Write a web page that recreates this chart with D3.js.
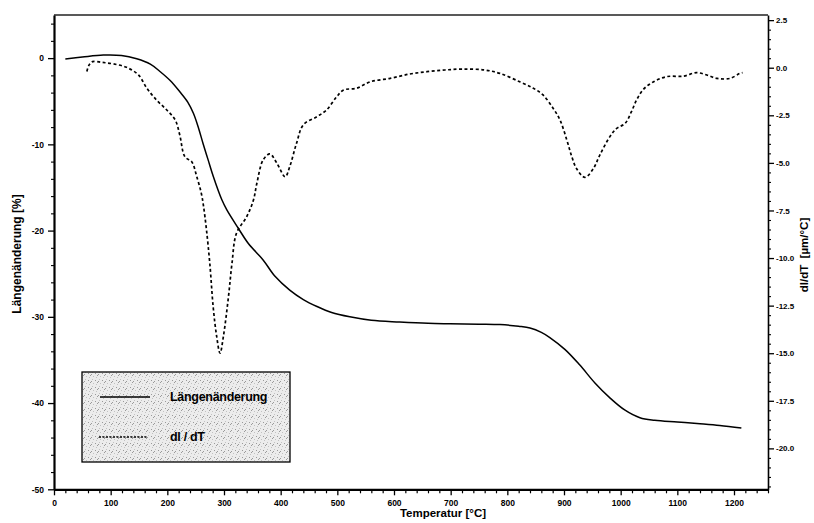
<!DOCTYPE html>
<html>
<head>
<meta charset="utf-8">
<script src="https://cdn.jsdelivr.net/npm/d3@7"></script>
<style>
  html, body { margin: 0; padding: 0; background: #fff; }
  svg { display: block; font-family: "Liberation Sans", Arial, sans-serif; }
  .tick text { font-weight: bold; }
</style>
</head>
<body>
<svg id="chart" width="814" height="523"></svg>
<script>
// Dilatometer run: relative length change (left axis) and its derivative dl/dT (right axis)
const lengthTemp   = [20, 50, 87, 119, 146, 170, 187, 205, 222, 236, 246, 255, 263, 272, 281, 296, 305, 325, 343, 369, 390, 416, 440, 464, 490, 522, 560, 610, 660, 699, 750, 787, 820, 840, 860, 875, 902, 928, 955, 981, 1007, 1034, 1060, 1100, 1140, 1175, 1213];
const lengthChange = [-0.1, 0.12, 0.35, 0.3, -0.08, -0.7, -1.55, -2.6, -3.9, -5.1, -6.4, -8.1, -9.9, -11.8, -13.7, -16.4, -17.6, -19.7, -21.5, -23.4, -25.3, -26.9, -28.0, -28.8, -29.5, -30.0, -30.4, -30.6, -30.75, -30.8, -30.85, -30.9, -31.1, -31.3, -31.8, -32.4, -33.8, -35.6, -37.7, -39.4, -40.8, -41.7, -42.0, -42.2, -42.4, -42.6, -42.9];

const derivTemp  = [58, 62, 68, 85, 105, 128, 149, 164, 181, 199, 214, 222, 231, 243, 252, 260, 264, 269, 275, 281, 287, 293, 299, 308, 314, 322, 340, 352, 358, 369, 381, 393, 408, 416, 428, 440, 464, 481, 499, 511, 534, 558, 593, 628, 658, 690, 720, 760, 787, 822, 846, 863, 881, 893, 905, 913, 922, 937, 952, 963, 981, 993, 1008, 1019, 1028, 1040, 1058, 1081, 1111, 1134, 1152, 1170, 1193, 1210, 1215];
const derivValue = [-0.2, 0.15, 0.32, 0.28, 0.2, 0.02, -0.38, -1.08, -1.7, -2.22, -2.75, -3.54, -4.68, -4.94, -5.73, -6.6, -7.3, -8.5, -10.3, -12.6, -14.1, -15.0, -14.1, -12.0, -10.3, -8.7, -7.83, -6.95, -6.07, -4.85, -4.53, -5.0, -5.73, -5.2, -3.97, -3.0, -2.57, -2.22, -1.52, -1.17, -1.08, -0.74, -0.56, -0.33, -0.21, -0.12, -0.07, -0.12, -0.3, -0.74, -1.08, -1.43, -2.14, -2.75, -3.8, -4.6, -5.29, -5.76, -5.29, -4.6, -3.62, -3.19, -2.92, -2.31, -1.7, -1.14, -0.74, -0.47, -0.44, -0.26, -0.38, -0.56, -0.56, -0.3, -0.26];

const tempTicks   = [0, 100, 200, 300, 400, 500, 600, 700, 800, 900, 1000, 1100, 1200];
const lengthTicks = [0, -10, -20, -30, -40, -50];
const derivTicks  = [2.5, 0, -2.5, -5, -7.5, -10, -12.5, -15, -17.5, -20];

const legendLabels = ["Längenänderung", "dl / dT"];

const svg = d3.select("#chart");
const plotL = 54, plotR = 768, plotT = 15, plotB = 489.3;

const x  = d3.scaleLinear().domain([0, 1260]).range([plotL, plotR]);
const yL = d3.scaleLinear().domain([-50, 5]).range([plotB, plotT]);
const yR = d3.scaleLinear().domain([-22.15, 2.77]).range([plotB, plotT]);

// plain hyphen for negative numbers
const fmtInt = d => String(d);
const fmtOne = d => d.toFixed(1);

// Legend fill: light stipple
const defs = svg.append("defs");
const pat = defs.append("pattern").attr("id", "stipple")
  .attr("patternUnits", "userSpaceOnUse").attr("width", 7).attr("height", 7);
pat.append("rect").attr("width", 7).attr("height", 7).attr("fill", "#ececec");
[[1,1],[4,2],[2,5],[6,4],[5,6],[0,3]].forEach(([a,b], i) =>
  pat.append("rect").attr("x", a).attr("y", b).attr("width", 1).attr("height", 1)
    .attr("fill", i % 2 ? "#9a9a9a" : "#c2c2c2"));

// Frame: top edge
svg.append("line").attr("x1", plotL).attr("x2", plotR).attr("y1", plotT).attr("y2", plotT)
  .attr("stroke", "#222").attr("stroke-width", 1.4);

function styleAxis(g, w) {
  g.select(".domain").attr("stroke", "#000").attr("stroke-width", w);
  g.selectAll(".tick line").attr("stroke", "#000").attr("stroke-width", 1.3);
  g.selectAll(".tick text").attr("fill", "#000");
}

// minor ticks
const minorX = d3.range(0, 1261, 20).filter(v => v % 100 !== 0);
svg.append("g").attr("transform", `translate(0,${plotB})`)
  .call(d3.axisBottom(x).tickValues(minorX).tickSize(4).tickFormat("").tickSizeOuter(0))
  .call(g => { g.select(".domain").remove(); g.selectAll("line").attr("stroke", "#000").attr("stroke-width", 1.2); });
const minorL = d3.range(-50, 5.01, 2).filter(v => v % 10 !== 0);
svg.append("g").attr("transform", `translate(${plotL},0)`)
  .call(d3.axisLeft(yL).tickValues(minorL).tickSize(3).tickFormat(""))
  .call(g => { g.select(".domain").remove(); g.selectAll("line").attr("stroke", "#000").attr("stroke-width", 1.1); });
const minorR = d3.range(-22, 2.77, 0.5).filter(v => Math.abs(v % 2.5) > 1e-6);
svg.append("g").attr("transform", `translate(${plotR},0)`)
  .call(d3.axisRight(yR).tickValues(minorR).tickSize(3).tickFormat(""))
  .call(g => { g.select(".domain").remove(); g.selectAll("line").attr("stroke", "#000").attr("stroke-width", 1.1); });

// major axes
svg.append("g").attr("transform", `translate(0,${plotB})`)
  .call(d3.axisBottom(x).tickValues(tempTicks).tickFormat(fmtInt).tickSize(6).tickSizeOuter(0).tickPadding(5))
  .call(g => styleAxis(g, 2.2))
  .call(g => g.selectAll("text").attr("font-size", 8.5));

svg.append("g").attr("transform", `translate(${plotL},0)`)
  .call(d3.axisLeft(yL).tickValues(lengthTicks).tickFormat(fmtInt).tickSize(6).tickSizeOuter(0).tickPadding(4))
  .call(g => styleAxis(g, 2.2))
  .call(g => g.selectAll("text").attr("font-size", 8.5));

svg.append("g").attr("transform", `translate(${plotR},0)`)
  .call(d3.axisRight(yR).tickValues(derivTicks).tickSize(6).tickSizeOuter(0).tickPadding(2)
    .tickFormat(fmtOne))
  .call(g => styleAxis(g, 1.6))
  .call(g => g.selectAll("text").attr("font-size", 8));

// Axis titles
svg.append("text").attr("x", 443).attr("y", 517).attr("text-anchor", "middle")
  .attr("font-size", 11.5).attr("font-weight", "bold").text("Temperatur [°C]");
svg.append("text").attr("transform", "translate(21,254) rotate(-90)").attr("text-anchor", "middle")
  .attr("font-size", 12).attr("font-weight", "bold").text("Längenänderung [%]");
svg.append("text").attr("transform", "translate(808,255) rotate(-90)").attr("text-anchor", "middle")
  .attr("font-size", 11.5).attr("font-weight", "bold").attr("xml:space", "preserve")
  .text("dl/dT  [µm/°C]");

// Curves
const lineL = d3.line().x((d, i) => x(lengthTemp[i])).y(d => yL(d)).curve(d3.curveCatmullRom.alpha(0.5));
const lineR = d3.line().x((d, i) => x(derivTemp[i])).y(d => yR(d)).curve(d3.curveCatmullRom.alpha(0.5));

svg.append("path").attr("d", lineL(lengthChange))
  .attr("fill", "none").attr("stroke", "#000").attr("stroke-width", 1.5);
svg.append("path").attr("d", lineR(derivValue))
  .attr("fill", "none").attr("stroke", "#000").attr("stroke-width", 1.7)
  .attr("stroke-dasharray", "3,2.5");

// Legend
const lg = svg.append("g");
lg.append("rect").attr("x", 82).attr("y", 372).attr("width", 208).attr("height", 90)
  .attr("fill", "url(#stipple)").attr("stroke", "#000").attr("stroke-width", 1.3);
lg.append("line").attr("x1", 100).attr("x2", 150).attr("y1", 397).attr("y2", 397)
  .attr("stroke", "#000").attr("stroke-width", 1.5);
lg.append("line").attr("x1", 99).attr("x2", 148).attr("y1", 437).attr("y2", 437)
  .attr("stroke", "#000").attr("stroke-width", 1.7).attr("stroke-dasharray", "2,1.5");
lg.selectAll("text.lab").data(legendLabels).join("text").attr("class", "lab")
  .attr("x", 170).attr("y", (d, i) => 401 + i * 40)
  .attr("font-size", 12.5).attr("font-weight", "bold").attr("letter-spacing", -0.3)
  .text(d => d);
</script>
</body>
</html>
